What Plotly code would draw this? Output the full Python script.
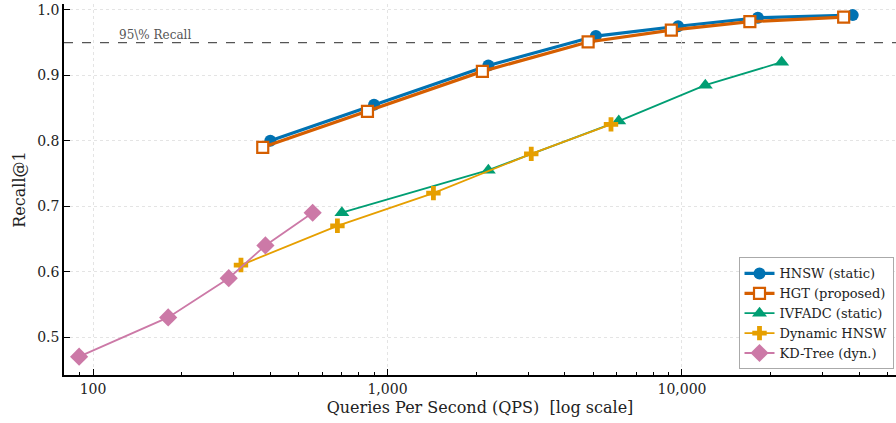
import plotly.graph_objects as go

hnsw_qps = [400, 900, 2200, 5100, 9700, 18100, 38000]
hnsw_recall = [0.80, 0.855, 0.915, 0.96, 0.975, 0.988, 0.992]

hgt_qps = [377, 855, 2100, 4800, 9200, 17000, 35400]
hgt_recall = [0.79, 0.845, 0.906, 0.951, 0.969, 0.982, 0.989]

ivf_qps = [700, 2200, 6100, 12000, 21800]
ivf_recall = [0.69, 0.755, 0.83, 0.885, 0.92]

dyn_qps = [318, 676, 1432, 3077, 5740]
dyn_recall = [0.61, 0.67, 0.72, 0.78, 0.825]

kd_qps = [89.7, 180, 289, 385, 557]
kd_recall = [0.47, 0.53, 0.59, 0.64, 0.69]

x_tickvals = [100, 1000, 10000]
x_ticktext = ["100", "1,000", "10,000"]
y_tickvals = [0.5, 0.6, 0.7, 0.8, 0.9, 1.0]

FONT = "DejaVu Serif"

fig = go.Figure()

fig.add_trace(go.Scatter(
    x=hnsw_qps, y=hnsw_recall, name="HNSW (static)", mode="lines+markers",
    line=dict(color="#0072B2", width=3.2),
    marker=dict(symbol="circle", size=12, color="#0072B2"),
))
fig.add_trace(go.Scatter(
    x=hgt_qps, y=hgt_recall, name="HGT (proposed)", mode="lines+markers",
    line=dict(color="#D55E00", width=3.2),
    marker=dict(symbol="square", size=11, color="white",
                line=dict(color="#D55E00", width=2.2)),
))
fig.add_trace(go.Scatter(
    x=ivf_qps, y=ivf_recall, name="IVFADC (static)", mode="lines+markers",
    line=dict(color="#009E73", width=1.8),
    marker=dict(symbol="triangle-up", size=13, color="#009E73"),
))
fig.add_trace(go.Scatter(
    x=dyn_qps, y=dyn_recall, name="Dynamic HNSW", mode="lines+markers",
    line=dict(color="#E69F00", width=1.8),
    marker=dict(symbol="cross", size=12, color="#E69F00"),
))
fig.add_trace(go.Scatter(
    x=kd_qps, y=kd_recall, name="KD-Tree (dyn.)", mode="lines+markers",
    line=dict(color="#CC79A7", width=1.8),
    marker=dict(symbol="diamond", size=14, color="#CC79A7"),
))

fig.add_shape(type="line", xref="paper", x0=0, x1=1, yref="y", y0=0.95, y1=0.95,
              line=dict(color="#555555", width=1.3, dash="dash"), layer="below")
fig.add_annotation(x=2.08, y=0.95, xref="x", yref="y", text="95\\% Recall",
                   showarrow=False, xanchor="left", yanchor="bottom", yshift=-1,
                   font=dict(family=FONT, size=12, color="#555555"))

fig.update_xaxes(
    type="log", range=[1.9015, 4.7267],
    tickvals=x_tickvals, ticktext=x_ticktext,
    ticks="inside", ticklen=6, tickwidth=1.2, tickcolor="black",
    minor=dict(ticks="inside", ticklen=3, tickwidth=1, tickcolor="black",
               dtick="D1", showgrid=False),
    showline=True, linecolor="black", linewidth=1.6, mirror=False,
    showgrid=True, gridcolor="#e4e4e4", griddash="dot", gridwidth=1,
    zeroline=False,
    tickfont=dict(family=FONT, size=14, color="#222"),
    title=dict(text="Queries Per Second (QPS) \u00a0[log scale]",
               font=dict(family=FONT, size=16, color="#222"), standoff=6),
)
fig.update_yaxes(
    range=[0.442, 1.009], tickvals=y_tickvals, tickformat=".1f",
    ticks="inside", ticklen=6, tickwidth=1.2, tickcolor="black",
    showline=True, linecolor="black", linewidth=1.6, mirror=False,
    showgrid=True, gridcolor="#e4e4e4", griddash="dot", gridwidth=1,
    zeroline=False,
    tickfont=dict(family=FONT, size=14, color="#222"),
    title=dict(text="Recall@1", font=dict(family=FONT, size=16, color="#222"),
               standoff=8),
)

fig.update_layout(
    width=896, height=423,
    margin=dict(l=64, r=0, t=4, b=48),
    plot_bgcolor="white", paper_bgcolor="white",
    font=dict(family=FONT, size=14, color="#222"),
    legend=dict(
        x=0.997, y=0.015, xanchor="right", yanchor="bottom",
        bgcolor="white", bordercolor="#aaaaaa", borderwidth=1,
        font=dict(family=FONT, size=13, color="#222"),
        itemwidth=30, tracegroupgap=0,
    ),
    showlegend=True,
)

fig.write_html("out.html")
